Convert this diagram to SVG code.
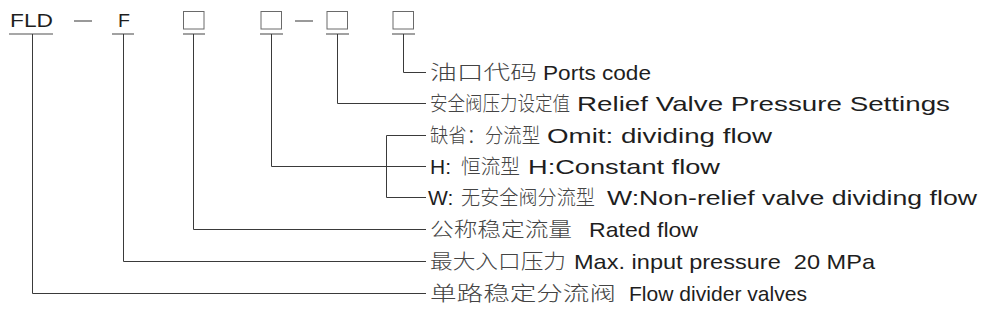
<svg xmlns="http://www.w3.org/2000/svg" width="981" height="336" viewBox="0 0 981 336">
<style>
.cn{font-family:"Noto Sans CJK SC","Liberation Sans",sans-serif;font-size:20px;font-weight:300;fill:#444}
.en{font-family:"Liberation Sans",Arial,sans-serif;font-size:21px;fill:#1e1e1e}
.code{font-family:"Liberation Sans",Arial,sans-serif;font-size:19px;fill:#1e1e1e}
.ul{stroke:#8a8a8a;stroke-width:1.6;fill:none}
.box{stroke:#6a6a6a;stroke-width:1;fill:none}
.dash{stroke:#555;stroke-width:1.2}
.conn{stroke:#3a3a3a;stroke-width:1;fill:none}
</style>
<rect width="981" height="336" fill="#ffffff"/>
<g id="code">
  <text class="code" x="10" y="27" textLength="43" lengthAdjust="spacingAndGlyphs">FLD</text>
  <line class="ul" x1="9" y1="34" x2="53" y2="34"/>
  <line class="dash" x1="74" y1="21" x2="92" y2="21"/>
  <text class="code" x="118" y="27" textLength="12" lengthAdjust="spacingAndGlyphs">F</text>
  <line class="ul" x1="112" y1="34" x2="134" y2="34"/>
  <rect class="box" x="183.5" y="11.5" width="20.5" height="17.5"/>
  <line class="ul" x1="183" y1="34" x2="205" y2="34"/>
  <rect class="box" x="261" y="11.5" width="20.5" height="17.5"/>
  <line class="ul" x1="260" y1="34" x2="283" y2="34"/>
  <line class="dash" x1="295" y1="21" x2="313" y2="21"/>
  <rect class="box" x="327" y="11.5" width="20.5" height="17.5"/>
  <line class="ul" x1="326" y1="34" x2="349" y2="34"/>
  <rect class="box" x="393" y="11.5" width="20.5" height="17.5"/>
  <line class="ul" x1="392" y1="34" x2="415" y2="34"/>
</g>
<g id="connectors">
  <polyline class="conn" points="403.5,34 403.5,72.5 426,72.5"/>
  <polyline class="conn" points="337.5,34 337.5,103.5 426,103.5"/>
  <polyline class="conn" points="271.5,34 271.5,166.5 426,166.5"/>
  <polyline class="conn" points="426,135.5 386.5,135.5 386.5,197.5 426,197.5"/>
  <polyline class="conn" points="193.5,34 193.5,229.5 426,229.5"/>
  <polyline class="conn" points="123.5,34 123.5,261.5 426,261.5"/>
  <polyline class="conn" points="32.5,34 32.5,293.5 426,293.5"/>
</g>
<g id="ports">
  <text y="80"><tspan class="cn" x="430" textLength="107" lengthAdjust="spacingAndGlyphs">油口代码</tspan><tspan class="en" x="543" textLength="108" lengthAdjust="spacingAndGlyphs">Ports code</tspan></text>
</g>
<g id="relief">
  <text y="111"><tspan class="cn" x="430" textLength="140" lengthAdjust="spacingAndGlyphs">安全阀压力设定值</tspan><tspan class="en" x="577" textLength="373" lengthAdjust="spacingAndGlyphs">Relief Valve Pressure Settings</tspan></text>
</g>
<g id="omit">
  <text y="143"><tspan class="cn" x="430" textLength="110" lengthAdjust="spacingAndGlyphs">缺省：分流型</tspan><tspan class="en" x="547" textLength="225" lengthAdjust="spacingAndGlyphs">Omit: dividing flow</tspan></text>
</g>
<g id="constant">
  <text y="174"><tspan class="en" x="430">H:</tspan><tspan class="cn" x="461" textLength="59" lengthAdjust="spacingAndGlyphs">恒流型</tspan><tspan class="en" x="528" textLength="192" lengthAdjust="spacingAndGlyphs">H:Constant flow</tspan></text>
</g>
<g id="nonrelief">
  <text y="205"><tspan class="en" x="428">W:</tspan><tspan class="cn" x="461" textLength="134" lengthAdjust="spacingAndGlyphs">无安全阀分流型</tspan><tspan class="en" x="607" textLength="370" lengthAdjust="spacingAndGlyphs">W:Non-relief valve dividing flow</tspan></text>
</g>
<g id="rated">
  <text y="237"><tspan class="cn" x="430" textLength="142" lengthAdjust="spacingAndGlyphs">公称稳定流量</tspan><tspan class="en" x="589" textLength="109" lengthAdjust="spacingAndGlyphs">Rated flow</tspan></text>
</g>
<g id="maxpressure">
  <text y="269"><tspan class="cn" x="430" textLength="136" lengthAdjust="spacingAndGlyphs">最大入口压力</tspan><tspan class="en" x="574" textLength="301" lengthAdjust="spacingAndGlyphs">Max. input pressure&#160; 20 MPa</tspan></text>
</g>
<g id="divider">
  <text y="301"><tspan class="cn" x="430" textLength="186" lengthAdjust="spacingAndGlyphs">单路稳定分流阀</tspan><tspan class="en" x="629" textLength="178" lengthAdjust="spacingAndGlyphs">Flow divider valves</tspan></text>
</g>
</svg>
